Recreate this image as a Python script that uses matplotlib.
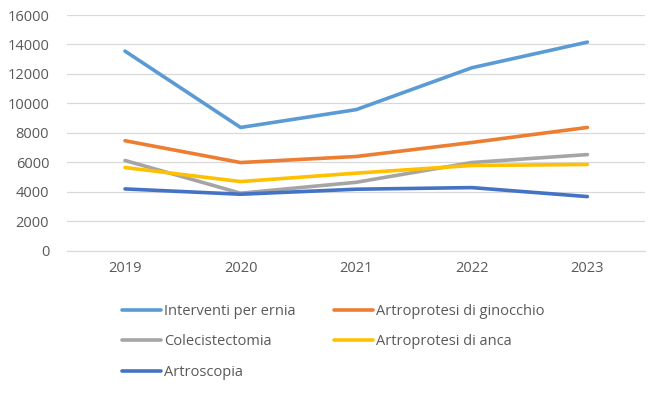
import matplotlib.pyplot as plt

plt.rcParams['font.family'] = ['Open Sans', 'DejaVu Sans']

years = ['2019', '2020', '2021', '2022', '2023']
ernia = [13550, 8370, 9580, 12420, 14160]
ginocchio = [7470, 5990, 6400, 7350, 8370]
colecistectomia = [6130, 3910, 4650, 5990, 6530]
anca = [5650, 4700, 5270, 5790, 5860]
artroscopia = [4200, 3840, 4180, 4290, 3680]

series = [
    ('Interventi per ernia', ernia, '#5B9BD5'),
    ('Artroprotesi di ginocchio', ginocchio, '#ED7D31'),
    ('Colecistectomia', colecistectomia, '#A5A5A5'),
    ('Artroprotesi di anca', anca, '#FFC000'),
    ('Artroscopia', artroscopia, '#4472C4'),
]

fig = plt.figure(figsize=(6.59, 3.95), dpi=100)
ax = fig.add_axes([0.102, 0.365, 0.877, 0.597])

x = range(len(years))
lines = []
for name, vals, col in series:
    ln, = ax.plot(x, vals, color=col, lw=2.6, label=name,
                  solid_capstyle='round', solid_joinstyle='round')
    lines.append(ln)

ax.set_xlim(-0.5, len(years) - 0.5)
ax.set_ylim(0, 16000)
ax.set_yticks(range(0, 16001, 2000))
ax.set_xticks(list(x))
ax.set_xticklabels(years)
ax.grid(axis='y', color='#D9D9D9', lw=0.9)
ax.set_axisbelow(True)
for s in ['top', 'right', 'left']:
    ax.spines[s].set_visible(False)
ax.spines['bottom'].set_color('#D9D9D9')
ax.tick_params(length=0, colors='#595959', labelsize=10.5)
ax.tick_params(axis='y', pad=13)
ax.tick_params(axis='x', pad=7)

# row-major legend order (matplotlib fills column by column)
order = [0, 2, 4, 1, 3]
fig.legend([lines[i] for i in order], [series[i][0] for i in order],
           loc='upper left', bbox_to_anchor=(0.185, 0.23), ncol=2, frameon=False,
           fontsize=10.5, labelcolor='#595959', handlelength=2.7, handletextpad=0.2,
           columnspacing=2.6, labelspacing=1.05, borderaxespad=0, borderpad=0)

fig.savefig('out.png', dpi=100)
